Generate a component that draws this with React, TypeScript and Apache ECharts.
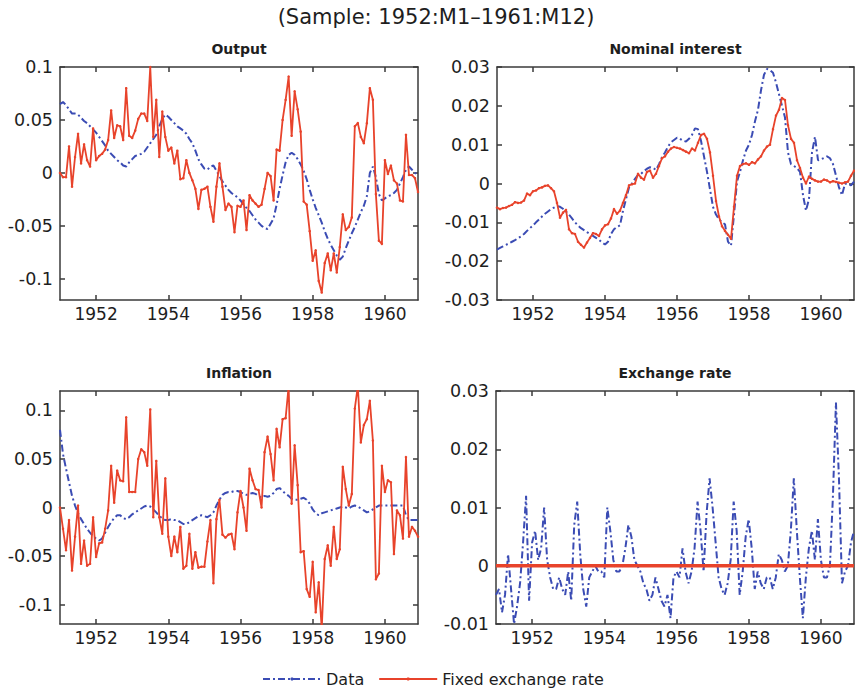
import React, { useEffect, useRef } from "react";
import * as echarts from "echarts";

const START_YEAR = 1951;
const X_TICKS = [1952, 1954, 1956, 1958, 1960];
const LEGEND_NAMES = ["Data", "Fixed exchange rate"];
const MAIN_TITLE = "(Sample: 1952:M1\u20131961:M12)";

const outputFixed = [
  0.000, -0.004, -0.004, 0.025, -0.013, 0.015, 0.037, 0.009, 0.027, 0.012, 0.006, 0.042,
  0.012, 0.016, 0.018, 0.022, 0.031, 0.059, 0.033, 0.045, 0.044, 0.031, 0.080, 0.035,
  0.033, 0.040, 0.051, 0.056, 0.056, 0.049, 0.100, 0.034, 0.069, 0.015, 0.058, 0.034,
  0.021, 0.024, 0.009, 0.021, -0.006, -0.005, 0.012, 0.000, -0.007, -0.015, -0.034, -0.016,
  -0.015, -0.013, -0.032, -0.046, -0.013, 0.009, -0.013, -0.035, -0.029, -0.032, -0.056, -0.031,
  -0.032, -0.026, -0.054, -0.021, -0.026, -0.029, -0.032, -0.030, -0.015, 0.000, -0.003, -0.026,
  0.022, 0.021, 0.050, 0.069, 0.091, 0.035, 0.077, 0.060, 0.039, -0.027, -0.030, -0.055,
  -0.083, -0.073, -0.102, -0.113, -0.085, -0.076, -0.092, -0.076, -0.094, -0.070, -0.039, -0.054,
  -0.051, -0.042, 0.044, 0.047, 0.034, 0.028, 0.047, 0.080, 0.069, -0.020, -0.064, -0.067,
  0.012, -0.001, 0.007, -0.007, -0.010, -0.026, -0.027, 0.036, -0.002, -0.002, -0.005, -0.018,
];

const outputData = [
  0.065, 0.067, 0.064, 0.060, 0.056, 0.056, 0.055, 0.052, 0.049, 0.047, 0.044, 0.041,
  0.038, 0.034, 0.030, 0.026, 0.021, 0.018, 0.015, 0.012, 0.010, 0.007, 0.006, 0.010,
  0.013, 0.016, 0.017, 0.018, 0.020, 0.024, 0.028, 0.032, 0.036, 0.044, 0.051, 0.055,
  0.053, 0.050, 0.047, 0.044, 0.042, 0.040, 0.037, 0.032, 0.028, 0.021, 0.013, 0.008,
  0.004, 0.003, 0.006, 0.007, 0.002, -0.003, -0.008, -0.012, -0.016, -0.019, -0.021, -0.023,
  -0.026, -0.030, -0.033, -0.036, -0.040, -0.044, -0.047, -0.050, -0.052, -0.053, -0.048, -0.043,
  -0.030, -0.015, -0.002, 0.010, 0.017, 0.019, 0.017, 0.013, 0.008, 0.002, -0.006, -0.016,
  -0.025, -0.033, -0.040, -0.047, -0.055, -0.062, -0.068, -0.073, -0.078, -0.082, -0.079, -0.071,
  -0.064, -0.057, -0.051, -0.044, -0.037, -0.031, -0.022, 0.000, 0.006, -0.004, -0.020, -0.026,
  -0.024, -0.022, -0.021, -0.019, -0.016, -0.010, -0.004, 0.003, 0.006, 0.003, 0.000, -0.002,
];

const interestFixed = [
  -0.0062, -0.0066, -0.0063, -0.0062, -0.0058, -0.0055, -0.0048, -0.0050, -0.0049, -0.0044, -0.0026, -0.0030,
  -0.0020, -0.0018, -0.0012, -0.0010, -0.0006, -0.0005, -0.0012, -0.0020, -0.0050, -0.0088, -0.0075, -0.0068,
  -0.0118, -0.0128, -0.0130, -0.0150, -0.0158, -0.0165, -0.0152, -0.0140, -0.0128, -0.0130, -0.0135, -0.0118,
  -0.0108, -0.0105, -0.0090, -0.0066, -0.0078, -0.0070, -0.0050, -0.0030, -0.0005, -0.0002, 0.0000, 0.0025,
  0.0015, 0.0010, 0.0030, 0.0033, 0.0015, 0.0025, 0.0045, 0.0065, 0.0070, 0.0082, 0.0090, 0.0094,
  0.0092, 0.0090, 0.0086, 0.0082, 0.0078, 0.0090, 0.0085, 0.0105, 0.0125, 0.0128, 0.0115, 0.0080,
  0.0020, -0.0045, -0.0085, -0.0110, -0.0122, -0.0132, -0.0142, -0.0060, 0.0020, 0.0045, 0.0050, 0.0052,
  0.0048, 0.0055, 0.0052, 0.0062, 0.0070, 0.0085, 0.0095, 0.0100, 0.0140, 0.0175, 0.0190, 0.0220,
  0.0215, 0.0150, 0.0115, 0.0105, 0.0060, 0.0040, 0.0015, 0.0000, 0.0018, 0.0012, 0.0008, 0.0005,
  0.0005, 0.0010, 0.0008, 0.0003, 0.0006, 0.0004, 0.0002, 0.0000, 0.0003, 0.0005, 0.0020, 0.0033,
];

const interestData = [
  -0.0170, -0.0166, -0.0162, -0.0158, -0.0154, -0.0150, -0.0146, -0.0141, -0.0136, -0.0130, -0.0122, -0.0115,
  -0.0108, -0.0100, -0.0093, -0.0085, -0.0078, -0.0072, -0.0066, -0.0062, -0.0058, -0.0060, -0.0065, -0.0072,
  -0.0080, -0.0090, -0.0100, -0.0108, -0.0115, -0.0120, -0.0125, -0.0130, -0.0135, -0.0140, -0.0145, -0.0152,
  -0.0157, -0.0150, -0.0130, -0.0118, -0.0112, -0.0108, -0.0070, -0.0040, -0.0010, 0.0000, 0.0012, 0.0022,
  0.0025, 0.0032, 0.0038, 0.0042, 0.0040, 0.0035, 0.0050, 0.0068, 0.0080, 0.0095, 0.0106, 0.0112,
  0.0118, 0.0115, 0.0110, 0.0108, 0.0115, 0.0125, 0.0142, 0.0140, 0.0110, 0.0070, 0.0030, -0.0015,
  -0.0060, -0.0080, -0.0092, -0.0100, -0.0105, -0.0150, -0.0160, -0.0080, 0.0005, 0.0030, 0.0060, 0.0085,
  0.0100, 0.0125, 0.0160, 0.0190, 0.0240, 0.0280, 0.0295, 0.0292, 0.0285, 0.0260, 0.0230, 0.0200,
  0.0170, 0.0080, 0.0050, 0.0045, 0.0040, 0.0030, -0.0030, -0.0070, -0.0040, 0.0080, 0.0120, 0.0060,
  0.0062, 0.0066, 0.0070, 0.0065, 0.0050, 0.0020, -0.0010, -0.0030, 0.0000, -0.0002, -0.0005, 0.0005,
];

const inflationFixed = [
  0.000, -0.022, -0.044, -0.013, -0.065, -0.030, 0.002, -0.058, -0.034, -0.060, -0.058, -0.010,
  -0.051, -0.037, -0.036, -0.022, -0.003, 0.043, 0.005, 0.038, 0.028, 0.027, 0.093, 0.016,
  0.016, 0.016, 0.050, 0.060, 0.057, 0.043, 0.101, -0.010, 0.048, -0.010, -0.027, 0.030,
  -0.030, -0.050, -0.030, -0.046, -0.020, -0.063, -0.060, -0.027, -0.063, -0.046, -0.062, -0.061,
  -0.061, -0.035, -0.013, -0.078, -0.012, 0.008, -0.028, -0.031, -0.028, -0.027, -0.043, -0.005,
  0.017, 0.000, -0.024, 0.040, 0.028, 0.019, 0.018, 0.000, 0.057, 0.073, 0.055, 0.028,
  0.081, 0.062, 0.091, 0.092, 0.125, 0.004, 0.064, 0.023, -0.046, -0.045, -0.084, -0.092,
  -0.056, -0.108, -0.077, -0.125, -0.053, -0.039, -0.060, -0.020, -0.053, -0.043, 0.042, 0.019,
  0.002, 0.014, 0.102, 0.125, 0.067, 0.085, 0.091, 0.110, 0.069, -0.074, -0.068, 0.043,
  0.016, 0.028, 0.026, -0.048, -0.003, -0.008, -0.032, 0.052, -0.030, -0.020, -0.024, -0.030,
];

const inflationData = [
  0.080, 0.055, 0.040, 0.026, 0.012, 0.002, -0.006, -0.012, -0.017, -0.022, -0.026, -0.030,
  -0.032, -0.034, -0.032, -0.026, -0.020, -0.015, -0.011, -0.008, -0.008, -0.011, -0.012, -0.010,
  -0.007, -0.005, -0.003, -0.001, 0.001, 0.002, 0.001, -0.002, -0.005, -0.009, -0.011, -0.013,
  -0.013, -0.012, -0.013, -0.013, -0.015, -0.017, -0.017, -0.015, -0.013, -0.011, -0.009, -0.008,
  -0.009, -0.010, -0.008, -0.005, 0.002, 0.008, 0.013, 0.015, 0.016, 0.016, 0.017, 0.017,
  0.016, 0.014, 0.013, 0.014, 0.015, 0.014, 0.012, 0.010, 0.012, 0.011, 0.012, 0.015,
  0.019, 0.020, 0.017, 0.014, 0.012, 0.009, 0.008, 0.008, 0.009, 0.010, 0.008, 0.004,
  -0.002, -0.006, -0.008, -0.006, -0.005, -0.004, -0.003, -0.002, -0.001, 0.000, 0.001, 0.000,
  -0.001, 0.001, 0.002, 0.001, -0.001, -0.003, -0.005, -0.004, -0.002, 0.000, 0.002, 0.002,
  0.002, 0.002, 0.002, 0.002, 0.002, 0.002, 0.002, -0.008, -0.013, -0.013, -0.013, -0.013,
];

const exchangeData = [
  -0.005, -0.004, -0.008, -0.005, 0.002, -0.004, -0.010, -0.007, -0.003, 0.004, 0.012, -0.006,
  0.004, 0.006, 0.001, 0.003, 0.010, 0.001, -0.002, -0.004, -0.004, -0.002, -0.004, -0.005,
  -0.001, -0.006, 0.007, 0.011, 0.002, -0.004, -0.007, -0.002, -0.001, 0.000, -0.001, -0.001,
  -0.002, 0.010, 0.006, 0.001, -0.001, -0.001, 0.000, 0.003, 0.007, 0.005, 0.001, 0.000,
  -0.001, -0.003, -0.004, -0.006, -0.005, -0.002, -0.004, -0.006, -0.007, -0.005, -0.009, -0.002,
  -0.001, -0.002, 0.003, -0.001, -0.003, -0.001, 0.003, 0.011, 0.006, -0.001, 0.009, 0.015,
  0.010, 0.004, -0.002, -0.004, -0.005, -0.003, 0.001, 0.011, 0.006, -0.005, -0.001, 0.005,
  0.008, 0.003, -0.004, -0.001, -0.003, -0.004, -0.002, -0.002, -0.004, -0.002, 0.002, 0.001,
  -0.001, 0.000, 0.006, 0.015, 0.006, -0.002, -0.009, -0.002, 0.003, 0.006, 0.001, 0.008,
  0.001, -0.002, -0.002, 0.000, 0.012, 0.028, 0.015, -0.003, -0.001, 0.000, 0.004, 0.006,
];

const exchangeFixed = [
  0, 0, 0, 0, 0, 0, 0, 0, 0, 0, 0, 0,
  0, 0, 0, 0, 0, 0, 0, 0, 0, 0, 0, 0,
  0, 0, 0, 0, 0, 0, 0, 0, 0, 0, 0, 0,
  0, 0, 0, 0, 0, 0, 0, 0, 0, 0, 0, 0,
  0, 0, 0, 0, 0, 0, 0, 0, 0, 0, 0, 0,
  0, 0, 0, 0, 0, 0, 0, 0, 0, 0, 0, 0,
  0, 0, 0, 0, 0, 0, 0, 0, 0, 0, 0, 0,
  0, 0, 0, 0, 0, 0, 0, 0, 0, 0, 0, 0,
  0, 0, 0, 0, 0, 0, 0, 0, 0, 0, 0, 0,
  0, 0, 0, 0, 0, 0, 0, 0, 0, 0, 0, 0,
];

const outputTicks = [-0.1, -0.05, 0, 0.05, 0.1];
const interestTicks = [-0.03, -0.02, -0.01, 0, 0.01, 0.02, 0.03];
const inflationTicks = [-0.1, -0.05, 0, 0.05, 0.1];
const exchangeTicks = [-0.01, 0, 0.01, 0.02, 0.03];

const BLUE = "#3b4cb4";
const RED = "#e8432b";
const AXIS = "#3a3a3a";
const TEXT = "#1e1e1e";
const FONT = "DejaVu Sans";

const panels = [
  { title: "Output", data: outputData, fixed: outputFixed, min: -0.12, max: 0.1, ticks: outputTicks,
    left: 60, top: 67, width: 358, height: 233, redWidth: 1.8, redSymbol: true },
  { title: "Nominal interest", data: interestData, fixed: interestFixed, min: -0.03, max: 0.03, ticks: interestTicks,
    left: 497, top: 67, width: 357, height: 233, redWidth: 1.8, redSymbol: true },
  { title: "Inflation", data: inflationData, fixed: inflationFixed, min: -0.12, max: 0.12, ticks: inflationTicks,
    left: 60, top: 391, width: 358, height: 233, redWidth: 1.8, redSymbol: true },
  { title: "Exchange rate", data: exchangeData, fixed: exchangeFixed, min: -0.01, max: 0.03, ticks: exchangeTicks,
    left: 496, top: 391, width: 358, height: 233, redWidth: 3.5, redSymbol: false },
];

const toPairs = (vals: number[]) => vals.map((v, i) => [START_YEAR + i / 12, v]);
const fmt = (v: number) => String(parseFloat(v.toFixed(4)));

export default function App() {
  const ref = useRef<HTMLDivElement>(null);

  useEffect(() => {
    if (!ref.current) return;
    const chart = echarts.init(ref.current, undefined, { renderer: "svg" });
    const xMin = START_YEAR;
    const xMax = START_YEAR + 119 / 12;
    const lineStyle = { color: AXIS, width: 1.5 };

    const grid: any[] = [];
    const xAxis: any[] = [];
    const yAxis: any[] = [];
    const series: any[] = [];
    const title: any[] = [
      {
        text: MAIN_TITLE,
        left: 436,
        top: 6,
        padding: 0,
        textAlign: "center",
        textStyle: { fontFamily: FONT, fontSize: 21, fontWeight: "normal", color: TEXT },
      },
    ];

    panels.forEach((p, k) => {
      grid.push({ left: p.left, top: p.top, width: p.width, height: p.height, containLabel: false });
      title.push({
        text: p.title,
        left: p.left + p.width / 2,
        top: p.top - 25,
        padding: 0,
        textAlign: "center",
        textStyle: { fontFamily: FONT, fontSize: 14, fontWeight: "bold", color: TEXT },
      });
      xAxis.push({
        gridIndex: k, type: "value", min: xMin, max: xMax, position: "bottom",
        axisLine: { show: true, onZero: false, lineStyle },
        axisTick: { show: true, inside: true, length: 5, customValues: X_TICKS, lineStyle },
        axisLabel: { customValues: X_TICKS, formatter: (v: number) => String(Math.round(v)),
          fontFamily: FONT, fontSize: 17, color: TEXT, margin: 5 },
        splitLine: { show: false },
      });
      xAxis.push({
        gridIndex: k, type: "value", min: xMin, max: xMax, position: "top",
        axisLine: { show: true, onZero: false, lineStyle },
        axisTick: { show: true, inside: true, length: 5, customValues: X_TICKS, lineStyle },
        axisLabel: { show: false },
        splitLine: { show: false },
      });
      yAxis.push({
        gridIndex: k, type: "value", min: p.min, max: p.max, position: "left",
        axisLine: { show: true, onZero: false, lineStyle },
        axisTick: { show: true, inside: true, length: 5, customValues: p.ticks, lineStyle },
        axisLabel: { customValues: p.ticks, formatter: fmt, fontFamily: FONT, fontSize: 17.5, color: TEXT, margin: 7 },
        splitLine: { show: false },
      });
      yAxis.push({
        gridIndex: k, type: "value", min: p.min, max: p.max, position: "right",
        axisLine: { show: true, onZero: false, lineStyle },
        axisTick: { show: true, inside: true, length: 5, customValues: p.ticks, lineStyle },
        axisLabel: { show: false },
        splitLine: { show: false },
      });
      series.push({
        type: "line", name: LEGEND_NAMES[0], xAxisIndex: 2 * k, yAxisIndex: 2 * k,
        data: toPairs(p.data), symbol: "none", showSymbol: false,
        lineStyle: { color: BLUE, width: 2, type: [7, 3, 2, 3] },
        itemStyle: { color: BLUE },
        z: 2,
      });
      series.push({
        type: "line", name: LEGEND_NAMES[1], xAxisIndex: 2 * k, yAxisIndex: 2 * k,
        data: toPairs(p.fixed),
        symbol: p.redSymbol ? "circle" : "none", symbolSize: 2.5, showSymbol: p.redSymbol,
        lineStyle: { color: RED, width: p.redWidth },
        itemStyle: { color: RED },
        z: 3,
      });
    });

    chart.setOption({
      animation: false,
      backgroundColor: "#ffffff",
      title,
      grid,
      xAxis,
      yAxis,
      series,
      legend: {
        data: LEGEND_NAMES,
        top: 671,
        left: 262,
        padding: 0,
        itemWidth: 58,
        itemHeight: 4,
        itemGap: 14,
        textStyle: { fontFamily: FONT, fontSize: 16, color: TEXT },
      },
    });

    return () => chart.dispose();
  }, []);

  return (
    <div
      ref={ref}
      style={{ position: "fixed", left: 0, top: 0, width: 855, height: 692, background: "#fff" }}
    />
  );
}
